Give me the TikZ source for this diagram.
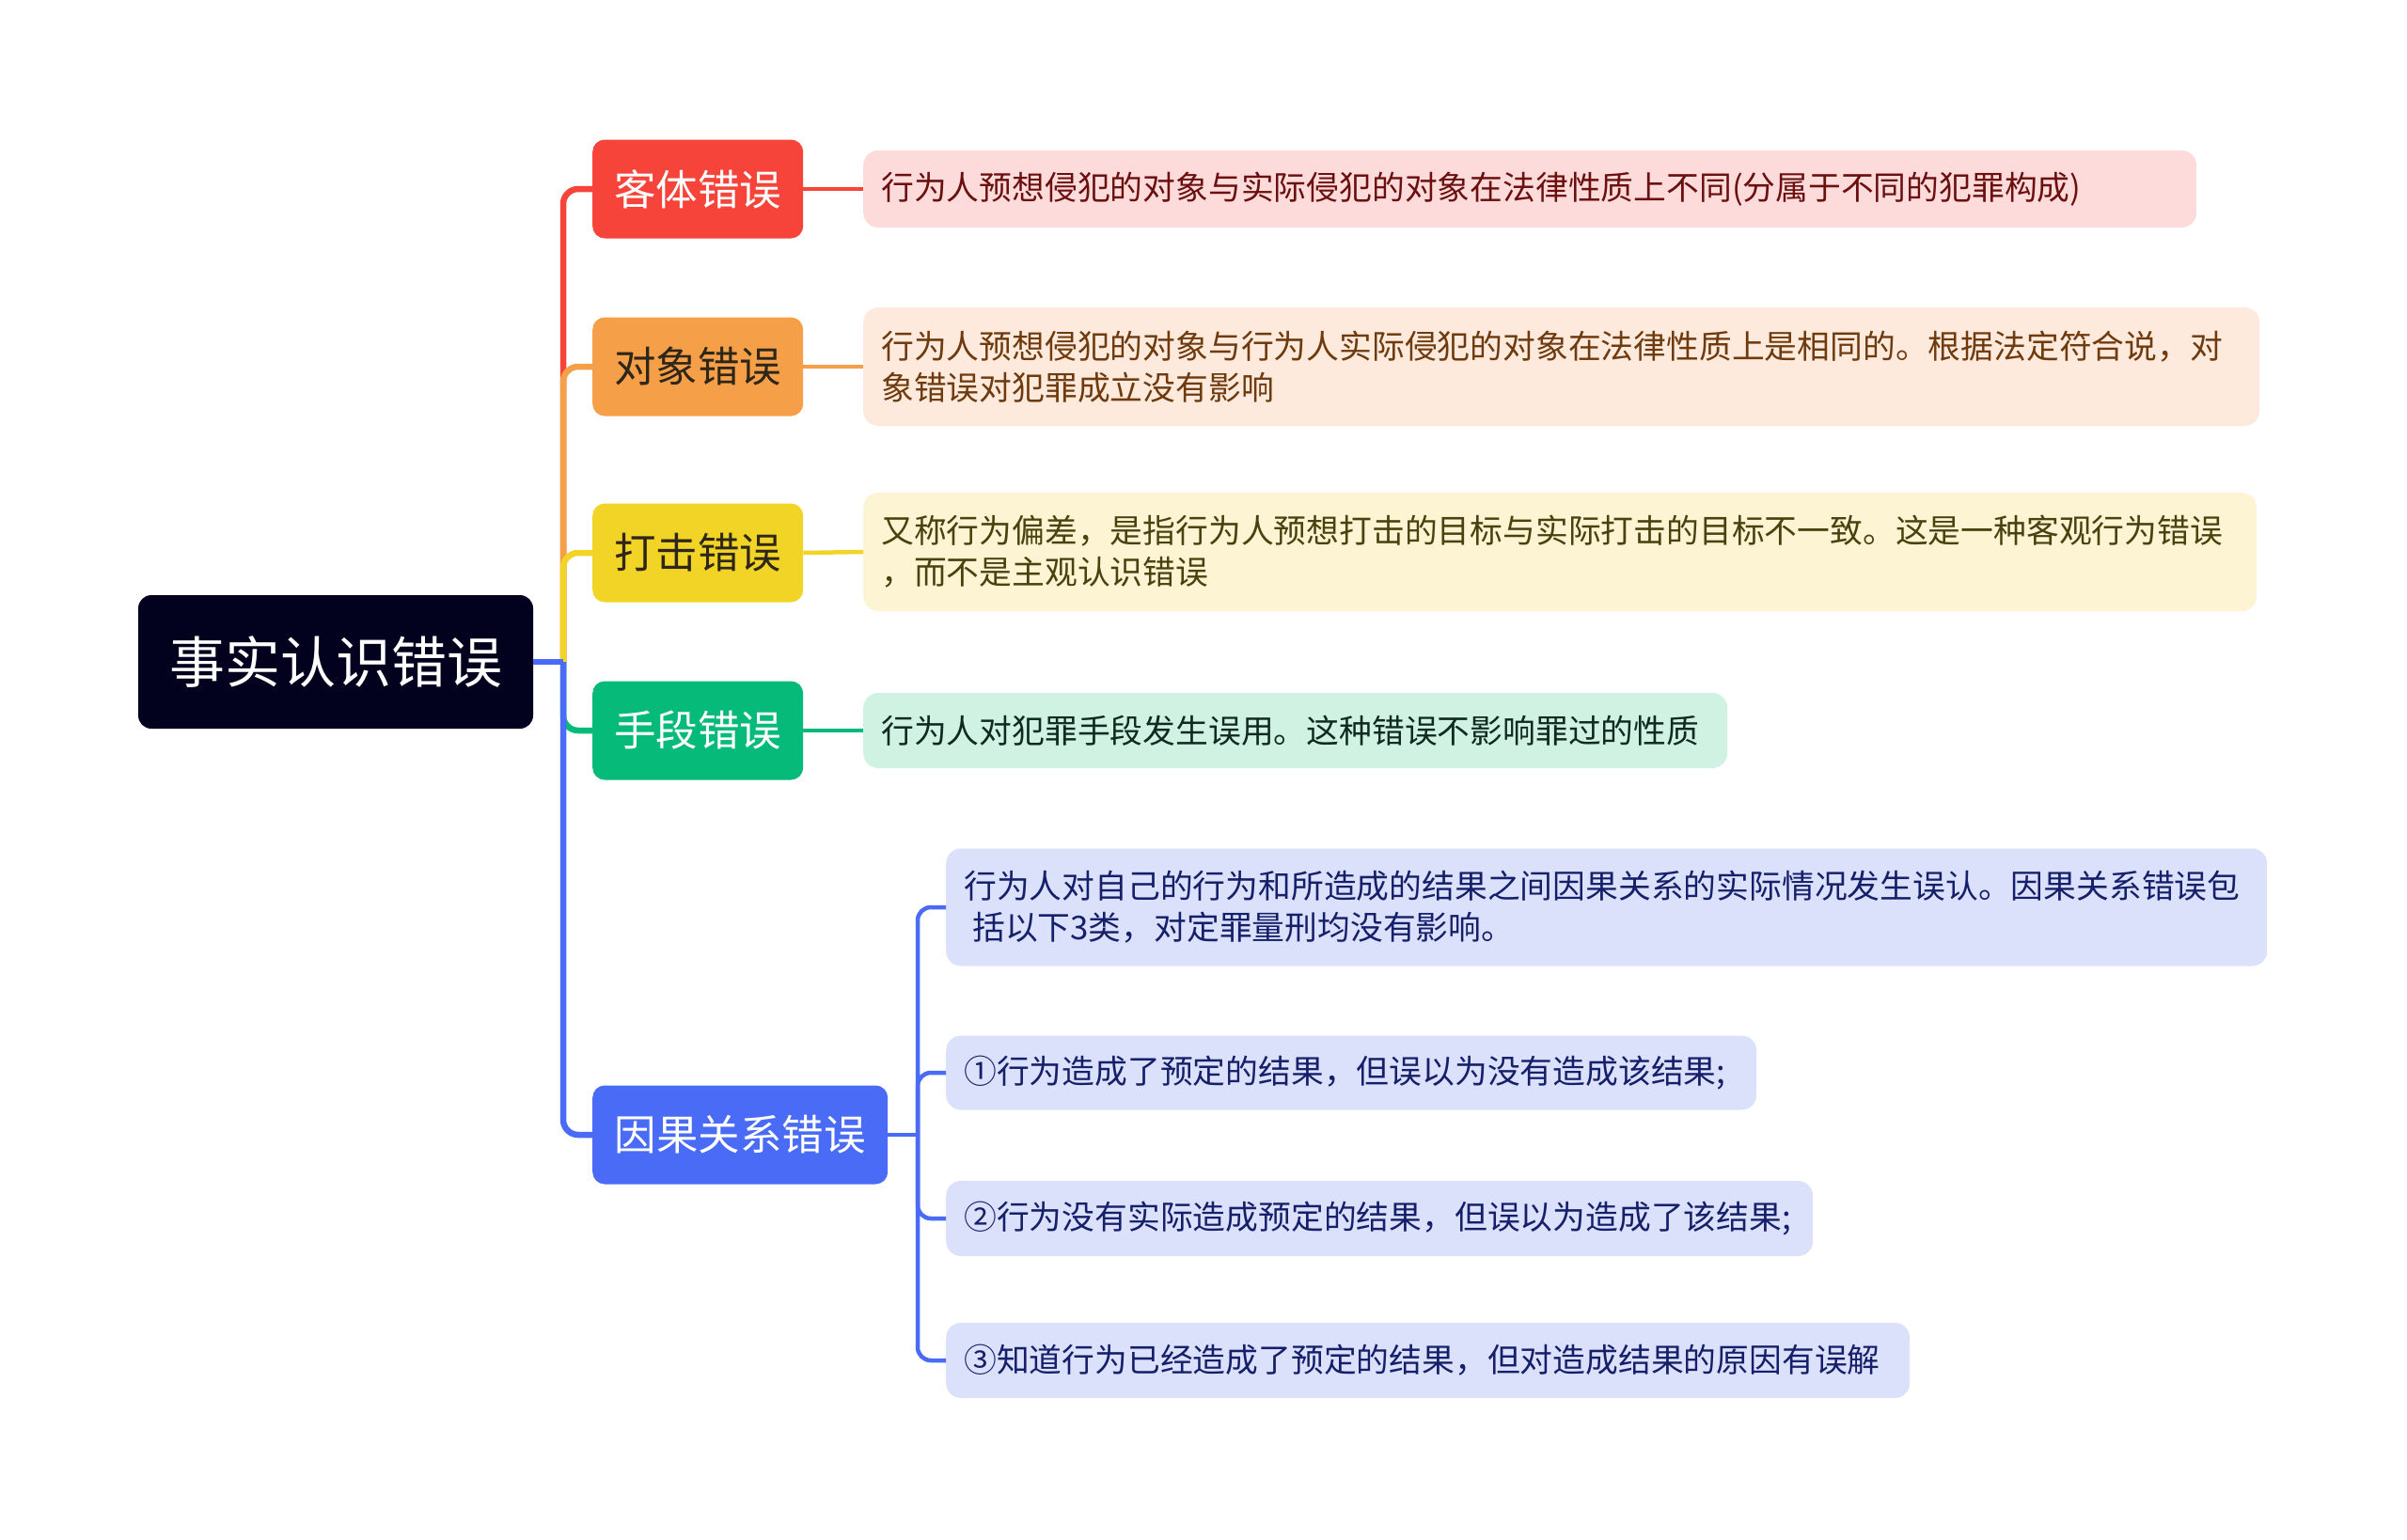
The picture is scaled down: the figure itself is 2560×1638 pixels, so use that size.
\documentclass[tikz,border=0pt]{standalone}
\usepackage{fontspec}
\setmainfont{Noto Sans CJK SC}
\definecolor{rootc}{HTML}{02021F}
\definecolor{cRed}{HTML}{F7443B}
\definecolor{cOrange}{HTML}{F5A048}
\definecolor{cYellow}{HTML}{F2D426}
\definecolor{cGreen}{HTML}{06BA7A}
\definecolor{cBlue}{HTML}{4A6BF5}
\definecolor{fRed}{HTML}{FDDBDB}
\definecolor{fOrange}{HTML}{FDEADC}
\definecolor{fYellow}{HTML}{FCF4D2}
\definecolor{fGreen}{HTML}{CFF2E2}
\definecolor{fBlue}{HTML}{DBE1FB}
\definecolor{tRed}{HTML}{6B0F0F}
\definecolor{tOrange}{HTML}{6E3A0E}
\definecolor{tYellow}{HTML}{4A420E}
\definecolor{tGreen}{HTML}{102A20}
\definecolor{tBlue}{HTML}{16206A}
\definecolor{tDark}{HTML}{2E2618}
\begin{document}
\begin{tikzpicture}[x=1pt,y=-1pt,
  rootbox/.style={fill=rootc, text=white, rounded corners=14pt, minimum width=420pt, minimum height=142pt, inner sep=0pt, font=\fontsize{59}{70}\selectfont},
  topic/.style={rounded corners=13pt, minimum height=105pt, inner sep=0pt, font=\fontsize{44.5}{52}\selectfont, anchor=west},
  leaf/.style={rounded corners=16pt, inner xsep=19pt, inner ysep=0pt, align=left, font=\fontsize{34.8}{44}\selectfont, anchor=west},
  conn/.style={line width=6.5pt, rounded corners=16pt},
  leafconn/.style={line width=4.5pt},
  subconn/.style={line width=4.5pt, rounded corners=14pt},
]
\useasboundingbox[fill=white] (0,0) rectangle (2560,1638);

% root
\node[rootbox] (root) at (357,704) {事实认识错误};

% topics
\node[topic, fill=cRed, text=white, minimum width=224pt] (k1) at (630,201) {客体错误};
\node[topic, fill=cOrange, text=tDark, minimum width=224pt] (k2) at (630,390) {对象错误};
\node[topic, fill=cYellow, text=tDark, minimum width=224pt] (k3) at (630,588) {打击错误};
\node[topic, fill=cGreen, text=white, minimum width=224pt] (k4) at (630,777) {手段错误};
\node[topic, fill=cBlue, text=white, minimum width=314pt] (k5) at (630,1207) {因果关系错误};

% leaves
\node[leaf, fill=fRed, text=tRed, text width=1380pt, minimum height=82pt] (l1) at (918,201)
  {行为人预想侵犯的对象与实际侵犯的对象在法律性质上不同(分属于不同的犯罪构成)};
\node[leaf, fill=fOrange, text=tOrange, text width=1447pt, minimum height=126pt] (l2) at (918,390)
  {行为人预想侵犯的对象与行为人实际侵犯的对象在法律性质上是相同的。根据法定符合说，对\\象错误对犯罪成立没有影响};
\node[leaf, fill=fYellow, text=tYellow, text width=1444pt, minimum height=126pt] (l3) at (918,587)
  {又称行为偏差，是指行为人预想打击的目标与实际打击的目标不一致。这是一种客观行为错误\\，而不是主观认识错误};
\node[leaf, fill=fGreen, text=tGreen, text width=881pt, minimum height=80pt] (l4) at (918,777)
  {行为人对犯罪手段发生误用。这种错误不影响罪过的性质};
\node[leaf, fill=fBlue, text=tBlue, text width=1367pt, minimum height=125pt] (l5a) at (1006,965)
  {行为人对自己的行为和所造成的结果之间因果关系的实际情况发生误认。因果关系错误包\\\hspace*{9pt}括以下3类，对定罪量刑均没有影响。};
\node[leaf, fill=fBlue, text=tBlue, text width=824pt, minimum height=79pt] (l5b) at (1006,1141)
  {①行为造成了预定的结果，但误以为没有造成该结果;};
\node[leaf, fill=fBlue, text=tBlue, text width=884pt, minimum height=80pt] (l5c) at (1006,1296)
  {②行为没有实际造成预定的结果，但误以为造成了该结果;};
\node[leaf, fill=fBlue, text=tBlue, text width=987pt, minimum height=80pt] (l5d) at (1006,1447)
  {③知道行为已经造成了预定的结果，但对造成结果的原因有误解};

% junctions
\coordinate (j) at (599,704);
\coordinate (j5) at (976,1207);

% main connectors
\draw[conn, cRed] (j) |- (k1.west);
\draw[conn, cOrange] (j) |- (k2.west);
\draw[conn, cYellow] (j) |- (k3.west);
\draw[conn, cGreen] (j) |- (k4.west);
\draw[conn, cBlue] (j) |- (k5.west);
\draw[line width=6.5pt, cBlue] (root.east) -- (j);

% topic to leaf
\draw[leafconn, cRed] (k1.east) -- (l1.west);
\draw[leafconn, cOrange] (k2.east) -- (l2.west);
\draw[leafconn, cYellow] (k3.east) -- (l3.west);
\draw[leafconn, cGreen] (k4.east) -- (l4.west);
\draw[leafconn, cBlue] (k5.east) -- (j5);
\draw[subconn, cBlue] (j5) |- (l5a.west);
\draw[subconn, cBlue] (j5) |- (l5b.west);
\draw[subconn, cBlue] (j5) |- (l5c.west);
\draw[subconn, cBlue] (j5) |- (l5d.west);
\end{tikzpicture}
\end{document}
